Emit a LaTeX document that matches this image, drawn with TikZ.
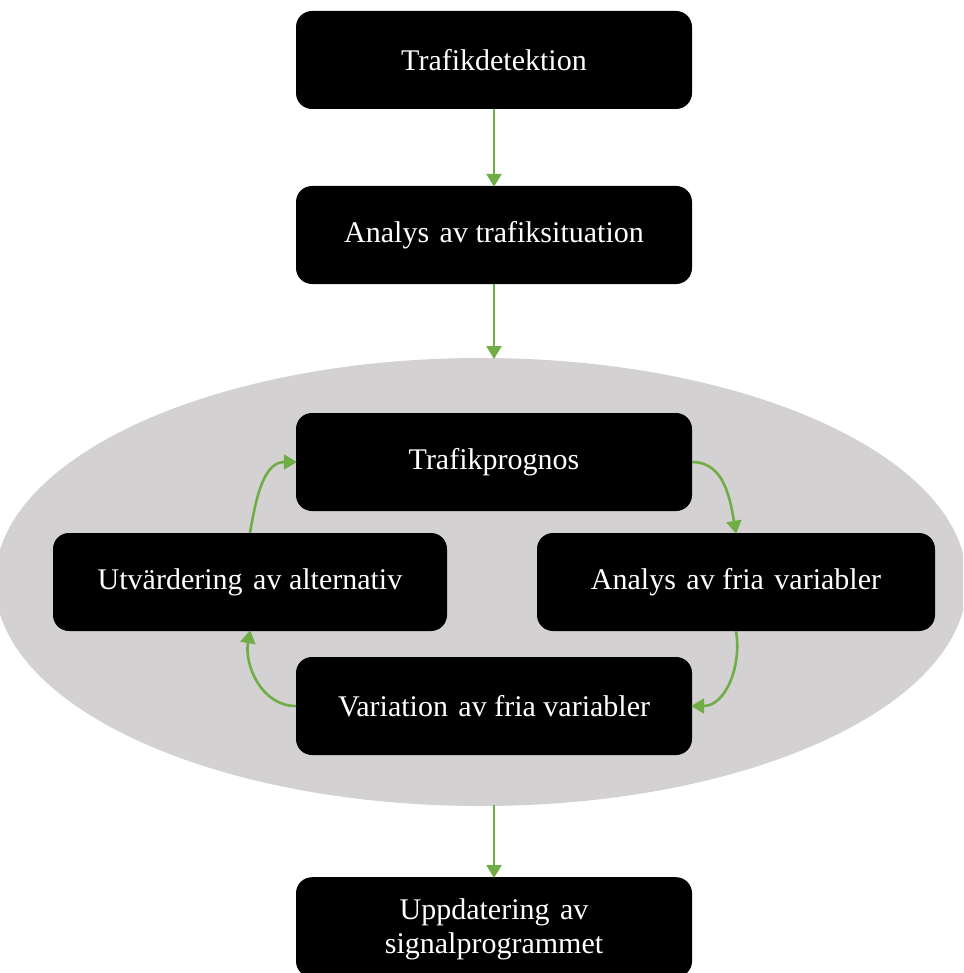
\documentclass[tikz,border=0pt]{standalone}
\usepackage{fontspec}
\setmainfont{Liberation Serif}
\usetikzlibrary{arrows.meta}
\definecolor{flowgreen}{HTML}{70AD47}
\definecolor{cloudgray}{HTML}{D3D1D1}
\newcommand{\wgap}{\hspace{0.35em}}
\begin{document}
\begin{tikzpicture}[x=1pt,y=-1pt,
  stepbox/.style={fill=black, rounded corners=16pt, minimum width=396pt,
    minimum height=98pt, text=white, align=center, inner sep=0pt,
    font=\fontsize{30}{36}\selectfont},
  flow/.style={draw=flowgreen, line width=2.6pt,
    -{Triangle[width=15pt,length=13pt]}, shorten >=-1pt}]
\useasboundingbox (0,0) rectangle (963,973);
\begin{scope}
  \clip (0,0) rectangle (963,973);
  \fill[cloudgray] (481,582) ellipse [x radius=486, y radius=224];
\end{scope}
% linear part
\node[stepbox] (det)  at (494,60)  {Trafikdetektion};
\node[stepbox] (ana)  at (494,235) {Analys\wgap av trafiksituation};
\coordinate (ctop) at (494,358);
\coordinate (cbot) at (494,805);
% loop inside the ellipse
\node[stepbox] (prog) at (494,462) {Trafikprognos};
\node[stepbox, minimum width=394pt] (utv)  at (250,582) {Utvärdering\wgap av alternativ};
\node[stepbox, minimum width=398pt] (fria) at (736,582) {Analys\wgap av fria\wgap variabler};
\node[stepbox] (var)  at (494,706) {Variation\wgap av fria variabler};
% output
\node[stepbox, minimum height=100pt, anchor=north] (upd) at (494,877)
  {\rule{0pt}{26pt}Uppdatering\wgap av\\[-2pt] signalprogrammet};
% connectors
\draw[flow] (det) -- (ana);
\draw[flow] (ana) -- (ctop);
\draw[flow] (cbot) -- (upd);
\draw[flow] (prog.east) to[out=0, in=100] (fria.north);
\draw[flow] (fria.south) to[out=-80, in=0] (var.east);
\draw[flow] (var.west) to[out=180, in=-100] (utv.south);
\draw[flow] (utv.north) to[out=80, in=180] (prog.west);
\end{tikzpicture}
\end{document}
